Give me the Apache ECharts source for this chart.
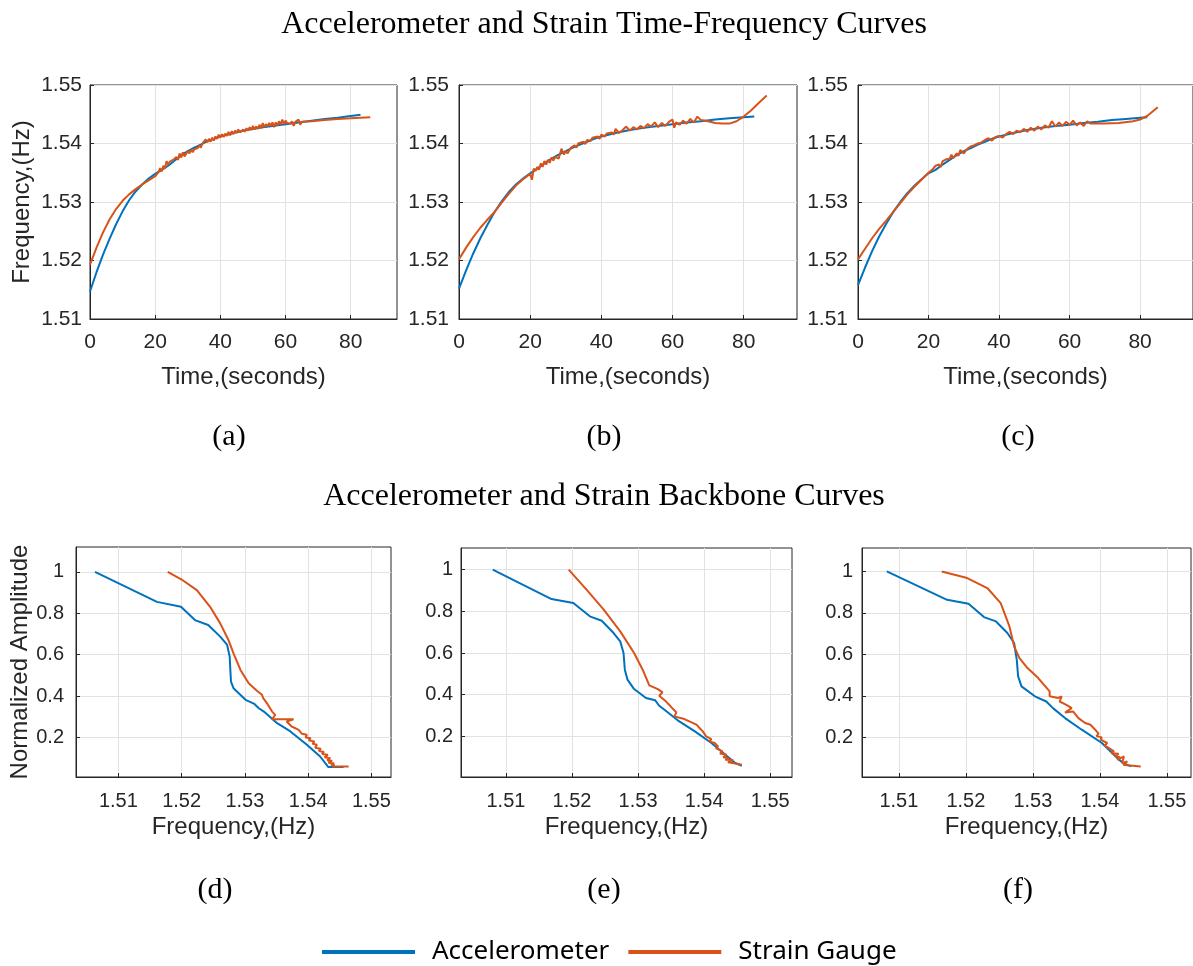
<!DOCTYPE html>
<html>
<head>
<meta charset="utf-8">
<script src="https://cdn.jsdelivr.net/npm/echarts@6/dist/echarts.min.js"></script>
<style>html,body{margin:0;padding:0;background:#fff;}#c{width:1193px;height:966px;}</style>
</head>
<body>
<div id="c"></div>
<script>
// ---------- Data: time-frequency curves [time (s), frequency (Hz)] ----------
var accA = [[0,1.5147],[2,1.5180],[4,1.5210],[6,1.5237],[8,1.5262],[10,1.5284],[12,1.5303],[14,1.5318],[16,1.5330],[18,1.5340],[20,1.5348],[20.6,1.5345],[22,1.5355],[24,1.5362],[26,1.5371],[28,1.5380],[30,1.5387],[32,1.5393],[34,1.5398],[36,1.5404],[38,1.5408],[40,1.5412],[44,1.5418],[48,1.5423],[52,1.5427],[56,1.5430],[60,1.5433],[64,1.5436],[68,1.5439],[72,1.5442],[76,1.5444],[80,1.5447],[83,1.5449]];
var strA = [[0,1.5193],[2,1.5222],[4,1.5248],[6,1.5270],[8,1.5288],[10,1.5302],[12,1.5313],[14,1.5322],[16,1.5330],[18,1.5337],[20,1.5344],[20.5,1.5342],[21,1.5351],[21.5,1.5358],[22,1.5352],[22.5,1.5362],[23,1.5357],[23.5,1.5370],[24,1.5364],[24.5,1.5369],[25,1.5366],[25.5,1.5372],[26,1.5369],[26.5,1.5377],[27,1.5372],[27.5,1.5383],[28,1.5376],[28.5,1.5385],[29,1.5378],[29.5,1.5381],[30,1.5387],[30.5,1.5383],[31,1.5389],[31.5,1.5385],[32,1.5390],[33,1.5392],[33.5,1.5397],[34,1.5393],[34.5,1.5400],[35,1.5397],[35.5,1.5407],[36,1.5402],[36.5,1.5408],[37,1.5403],[37.5,1.5410],[38,1.5405],[38.5,1.5412],[39,1.5408],[39.5,1.5415],[40,1.5410],[40.5,1.5416],[41,1.5411],[41.5,1.5417],[42,1.5413],[42.5,1.5420],[43,1.5414],[43.5,1.5421],[44,1.5416],[44.5,1.5422],[45,1.5418],[45.5,1.5424],[46,1.5419],[47,1.5424],[47.5,1.5420],[48,1.5426],[48.5,1.5422],[49,1.5428],[49.5,1.5423],[50,1.5430],[50.5,1.5424],[51,1.5429],[51.5,1.5425],[52,1.5432],[52.5,1.5426],[53,1.5435],[53.5,1.5428],[54,1.5433],[54.5,1.5429],[55,1.5435],[55.5,1.5430],[56,1.5436],[56.5,1.5428],[57,1.5436],[57.5,1.5431],[58,1.5438],[58.5,1.5432],[59,1.5441],[59.5,1.5433],[60,1.5439],[60.5,1.5435],[61,1.5438],[61.5,1.5434],[62,1.5438],[62.5,1.5430],[63,1.5437],[63.5,1.5434],[64,1.5441],[64.5,1.5432],[65,1.5437],[68,1.5438],[72,1.5440],[76,1.5442],[80,1.5443],[83,1.5444],[86,1.5445]];

var accB = [[0,1.5152],[2,1.5183],[4,1.5212],[6,1.5238],[8,1.5261],[10,1.5283],[12,1.5301],[14,1.5317],[16,1.5330],[18,1.5340],[20,1.5349],[22,1.5357],[24,1.5366],[26,1.5374],[28,1.5381],[30,1.5387],[32,1.5393],[34,1.5398],[36,1.5403],[38,1.5408],[40,1.5412],[44,1.5418],[48,1.5423],[52,1.5427],[56,1.5430],[60,1.5433],[64,1.5436],[68,1.5438],[72,1.5441],[76,1.5443],[80,1.5445],[83,1.5446]];
var strB = [[0,1.5202],[2,1.5222],[4,1.5240],[6,1.5256],[8,1.5270],[10,1.5283],[12,1.5299],[14,1.5314],[16,1.5328],[18,1.5339],[20,1.5348],[20.5,1.5338],[21,1.5357],[21.5,1.5353],[22,1.5360],[22.5,1.5355],[23,1.5366],[23.5,1.5360],[24,1.5370],[24.5,1.5364],[25,1.5372],[25.5,1.5367],[26,1.5376],[26.5,1.5371],[27,1.5377],[28,1.5374],[28.8,1.5391],[29.5,1.5381],[30,1.5387],[30.5,1.5383],[31,1.5385],[31.5,1.5393],[32,1.5391],[32.5,1.5397],[33,1.5393],[33.5,1.5400],[34,1.5397],[35,1.5403],[35.5,1.5399],[36,1.5406],[37,1.5404],[37.5,1.5410],[38,1.5407],[39,1.5412],[39.5,1.5408],[40,1.5415],[41,1.5412],[41.5,1.5417],[42,1.5414],[43,1.5419],[43.5,1.5415],[44,1.5425],[45,1.5418],[46,1.5423],[47,1.5429],[48,1.5422],[49,1.5428],[50,1.5424],[51,1.5430],[52,1.5426],[53,1.5433],[54,1.5429],[55,1.5436],[56,1.5428],[57,1.5435],[58,1.5430],[59,1.5437],[60,1.5441],[60.5,1.5427],[61,1.5436],[62,1.5432],[63,1.5439],[64,1.5434],[65,1.5442],[66,1.5436],[67,1.5446],[68,1.5440],[70,1.5438],[72,1.5435],[74,1.5434],[76,1.5434],[78,1.5438],[80,1.5446],[82,1.5456],[84,1.5468],[86.5,1.5482]];

var accC = [[0,1.5158],[2,1.5188],[4,1.5216],[6,1.5241],[8,1.5263],[10,1.5283],[12,1.5300],[14,1.5315],[16,1.5328],[18,1.5339],[20,1.5349],[20.5,1.5346],[22,1.5355],[24,1.5364],[26,1.5372],[28,1.5380],[30,1.5387],[32,1.5392],[34,1.5398],[36,1.5403],[38,1.5408],[40,1.5412],[44,1.5418],[48,1.5423],[52,1.5427],[56,1.5430],[60,1.5432],[64,1.5435],[68,1.5437],[72,1.5440],[76,1.5442],[80,1.5444],[82,1.5445]];
var strC = [[0,1.5202],[2,1.5220],[4,1.5238],[6,1.5254],[8,1.5268],[10,1.5283],[12,1.5298],[14,1.5313],[16,1.5326],[18,1.5338],[20,1.5350],[21,1.5355],[21.5,1.5352],[22,1.5362],[23,1.5364],[23.5,1.5360],[24,1.5370],[25,1.5373],[25.5,1.5370],[26,1.5374],[26.5,1.5381],[27,1.5375],[28,1.5383],[28.5,1.5379],[29,1.5389],[30,1.5383],[31,1.5391],[31.5,1.5388],[32,1.5395],[33,1.5397],[33.5,1.5394],[34,1.5400],[35,1.5402],[35.5,1.5399],[36,1.5406],[37,1.5409],[38,1.5405],[39,1.5411],[40,1.5413],[41,1.5410],[42,1.5416],[43,1.5420],[44,1.5416],[45,1.5422],[46,1.5419],[47,1.5425],[48,1.5420],[49,1.5427],[50,1.5422],[51,1.5429],[52,1.5424],[53,1.5431],[54,1.5427],[55,1.5438],[56,1.5429],[57,1.5436],[58,1.5430],[59,1.5437],[60,1.5432],[61,1.5439],[62,1.5431],[63,1.5436],[64,1.5430],[65,1.5438],[66,1.5434],[70,1.5434],[74,1.5435],[78,1.5438],[80,1.5441],[82,1.5447],[85,1.5462]];

// ---------- Data: backbone curves [frequency (Hz), normalized amplitude] ----------
var accD = [[1.5063,1.0],[1.5161,0.855],[1.5199,0.831],[1.5221,0.767],[1.5242,0.743],[1.5261,0.687],[1.5272,0.647],[1.5276,0.590],[1.5277,0.526],[1.5278,0.470],[1.5282,0.438],[1.5301,0.382],[1.5315,0.362],[1.5322,0.341],[1.5330,0.325],[1.5351,0.269],[1.5372,0.229],[1.5398,0.165],[1.5419,0.108],[1.5432,0.057],[1.5456,0.057]];
var strD = [[1.5178,1.0],[1.5200,0.963],[1.5224,0.912],[1.5245,0.831],[1.5261,0.751],[1.5274,0.671],[1.5282,0.606],[1.5293,0.526],[1.5306,0.462],[1.5319,0.426],[1.5327,0.406],[1.5330,0.414],[1.5329,0.390],[1.5335,0.365],[1.5343,0.325],[1.5348,0.309],[1.5343,0.288],[1.5359,0.288],[1.5377,0.288],[1.5366,0.277],[1.5374,0.253],[1.5385,0.237],[1.5390,0.218],[1.5398,0.213],[1.5396,0.200],[1.5404,0.196],[1.5401,0.186],[1.5410,0.180],[1.5407,0.170],[1.5414,0.165],[1.5411,0.150],[1.5420,0.146],[1.5417,0.135],[1.5425,0.130],[1.5422,0.120],[1.5431,0.116],[1.5426,0.104],[1.5435,0.100],[1.5430,0.090],[1.5438,0.088],[1.5432,0.078],[1.5441,0.076],[1.5436,0.068],[1.5442,0.066],[1.5438,0.060],[1.5464,0.060]];

var accE = [[1.5080,1.0],[1.5169,0.859],[1.5202,0.840],[1.5227,0.776],[1.5245,0.755],[1.5263,0.696],[1.5273,0.656],[1.5278,0.600],[1.5280,0.520],[1.5284,0.472],[1.5294,0.427],[1.5312,0.384],[1.5326,0.373],[1.5332,0.347],[1.5340,0.328],[1.5360,0.277],[1.5386,0.224],[1.5411,0.168],[1.5429,0.120],[1.5447,0.072],[1.5457,0.059]];
var strE = [[1.5195,1.0],[1.5222,0.904],[1.5248,0.808],[1.5273,0.704],[1.5294,0.600],[1.5307,0.520],[1.5317,0.445],[1.5330,0.427],[1.5337,0.411],[1.5332,0.395],[1.5342,0.368],[1.5347,0.352],[1.5353,0.331],[1.5358,0.315],[1.5355,0.296],[1.5370,0.283],[1.5381,0.267],[1.5378,0.258],[1.5389,0.255],[1.5393,0.240],[1.5398,0.224],[1.5403,0.200],[1.5411,0.187],[1.5408,0.176],[1.5416,0.168],[1.5421,0.152],[1.5418,0.142],[1.5428,0.128],[1.5424,0.118],[1.5434,0.112],[1.5429,0.100],[1.5437,0.096],[1.5432,0.088],[1.5444,0.086],[1.5436,0.076],[1.5443,0.072],[1.5440,0.064],[1.5457,0.064]];

var accF = [[1.5082,1.0],[1.5172,0.863],[1.5204,0.844],[1.5227,0.780],[1.5245,0.759],[1.5262,0.703],[1.5272,0.655],[1.5276,0.574],[1.5278,0.494],[1.5283,0.446],[1.5303,0.398],[1.5320,0.373],[1.5330,0.341],[1.5348,0.293],[1.5373,0.237],[1.5403,0.173],[1.5426,0.100],[1.5435,0.075],[1.5447,0.060]];
var strF = [[1.5164,1.0],[1.5202,0.968],[1.5232,0.920],[1.5252,0.847],[1.5265,0.735],[1.5272,0.639],[1.5280,0.582],[1.5292,0.534],[1.5308,0.486],[1.5325,0.422],[1.5325,0.398],[1.5338,0.390],[1.5343,0.398],[1.5340,0.373],[1.5350,0.357],[1.5358,0.341],[1.5348,0.320],[1.5360,0.325],[1.5368,0.293],[1.5378,0.269],[1.5386,0.261],[1.5393,0.237],[1.5398,0.218],[1.5395,0.206],[1.5403,0.200],[1.5401,0.189],[1.5411,0.173],[1.5407,0.160],[1.5413,0.149],[1.5421,0.133],[1.5417,0.124],[1.5428,0.121],[1.5422,0.110],[1.5430,0.104],[1.5426,0.092],[1.5436,0.108],[1.5433,0.076],[1.5441,0.084],[1.5435,0.068],[1.5441,0.066],[1.5439,0.060],[1.5461,0.060]];

// ---------- Tick labels / texts ----------
var timeTicks = [0, 20, 40, 60, 80];
var freqTicks = [1.51, 1.52, 1.53, 1.54, 1.55];
var ampTicks = [0.2, 0.4, 0.6, 0.8, 1];
var panelLabels = ['(a)', '(b)', '(c)', '(d)', '(e)', '(f)'];
var titles = ['Accelerometer and Strain Time-Frequency Curves', 'Accelerometer and Strain Backbone Curves'];
var seriesNames = ['Accelerometer', 'Strain Gauge'];

var BLUE = '#0072BD', ORANGE = '#D95319', AX = '#262626', GRID = '#e2e2e2';

var panels = [
  {grid:{left:90, top:85, right:796, bottom:647}, x:[0,94.2], y:[1.51,1.55], acc:accA, str:strA, top:true, yName:'Frequency,(Hz)', ym:8, yg:56},
  {grid:{left:459, top:85, right:396, bottom:647}, x:[0,95], y:[1.51,1.55], acc:accB, str:strB, top:true, ym:10},
  {grid:{left:858, top:85, right:-4, bottom:647}, x:[0,95], y:[1.51,1.55], acc:accC, str:strC, top:true, ym:10},
  {grid:{left:76, top:547, right:802, bottom:189}, x:[1.5033,1.5531], y:[0.009,1.12], acc:accD, str:strD, top:false, yName:'Normalized Amplitude', ym:12, yg:41},
  {grid:{left:461, top:548, right:401, bottom:189}, x:[1.5032,1.5533], y:[0.005,1.104], acc:accE, str:strE, top:false, ym:8},
  {grid:{left:862, top:548, right:2, bottom:189}, x:[1.5045,1.5536], y:[0.009,1.113], acc:accF, str:strF, top:false, ym:9}
];

var grids = [], xAxes = [], yAxes = [], series = [];
panels.forEach(function (p, i) {
  grids.push(Object.assign({show:true, borderColor:AX, borderWidth:1, backgroundColor:'#fff', containLabel:false}, p.grid));
  var xt = p.top ? timeTicks : freqTicks;
  var yt = p.top ? freqTicks : ampTicks;
  var tickFs = p.top ? 21 : 20;
  xAxes.push({
    type:'value', gridIndex:i, min:p.x[0], max:p.x[1],
    axisLine:{show:true, onZero:false, lineStyle:{color:AX, width:1}},
    axisTick:{show:true, inside:true, length:4, customValues:xt, lineStyle:{color:AX}},
    axisLabel:{customValues:xt, color:AX, fontSize:tickFs, fontFamily:'Liberation Sans', margin:p.top ? 13 : 14,
      formatter:function (v) { return p.top ? String(Math.round(v)) : v.toFixed(2); }},
    splitLine:{show:true, lineStyle:{color:GRID, width:1}},
    name: p.top ? 'Time,(seconds)' : 'Frequency,(Hz)',
    nameLocation:'middle', nameGap: p.top ? 46 : 38,
    nameTextStyle:{color:AX, fontSize:24, fontFamily:'Liberation Sans'}
  });
  yAxes.push({
    type:'value', gridIndex:i, min:p.y[0], max:p.y[1],
    axisLine:{show:true, onZero:false, lineStyle:{color:AX, width:1}},
    axisTick:{show:true, inside:true, length:4, customValues:yt, lineStyle:{color:AX}},
    axisLabel:{customValues:yt, color:AX, fontSize:tickFs, fontFamily:'Liberation Sans', margin:p.ym,
      formatter:function (v) { return p.top ? v.toFixed(2) : String(Math.round(v * 10) / 10); }},
    splitLine:{show:true, lineStyle:{color:GRID, width:1}},
    name: p.yName || '',
    nameLocation:'middle', nameGap: p.yg || 40,
    nameTextStyle:{color:AX, fontSize:24, fontFamily:'Liberation Sans'}
  });
  series.push({name:seriesNames[0], type:'line', xAxisIndex:i, yAxisIndex:i, data:p.acc, showSymbol:false, symbol:'none',
    lineStyle:{color:BLUE, width:2}, itemStyle:{color:BLUE}, z:3});
  series.push({name:seriesNames[1], type:'line', xAxisIndex:i, yAxisIndex:i, data:p.str, showSymbol:false, symbol:'none',
    lineStyle:{color:ORANGE, width:2}, itemStyle:{color:ORANGE}, z:4});
});

var labelPos = [[229,437],[604,437],[1018,437],[215,890],[604,890],[1018,890]];
var graphics = [
  {type:'text', x:604, y:25, style:{text:titles[0], fill:'#000', font:'32px "Liberation Serif"', textAlign:'center', textVerticalAlign:'middle'}},
  {type:'text', x:604, y:497, style:{text:titles[1], fill:'#000', font:'32px "Liberation Serif"', textAlign:'center', textVerticalAlign:'middle'}}
];
panelLabels.forEach(function (t, i) {
  graphics.push({type:'text', x:labelPos[i][0], y:labelPos[i][1], style:{text:t, fill:'#000', font:'30px "Liberation Serif"', textAlign:'center', textVerticalAlign:'middle'}});
});

var chart = echarts.init(document.getElementById('c'), null, {renderer:'canvas'});
chart.setOption({
  animation:false,
  backgroundColor:'#fff',
  grid:grids, xAxis:xAxes, yAxis:yAxes, series:series,
  legend:{data:seriesNames, bottom:-4, left:317, padding:5, icon:'rect', itemWidth:93, itemHeight:4, itemGap:19,
    textStyle:{fontSize:26, fontFamily:'Noto Sans', color:'#000', padding:[0,0,0,12]}},
  graphic:graphics
});
</script>
</body>
</html>
